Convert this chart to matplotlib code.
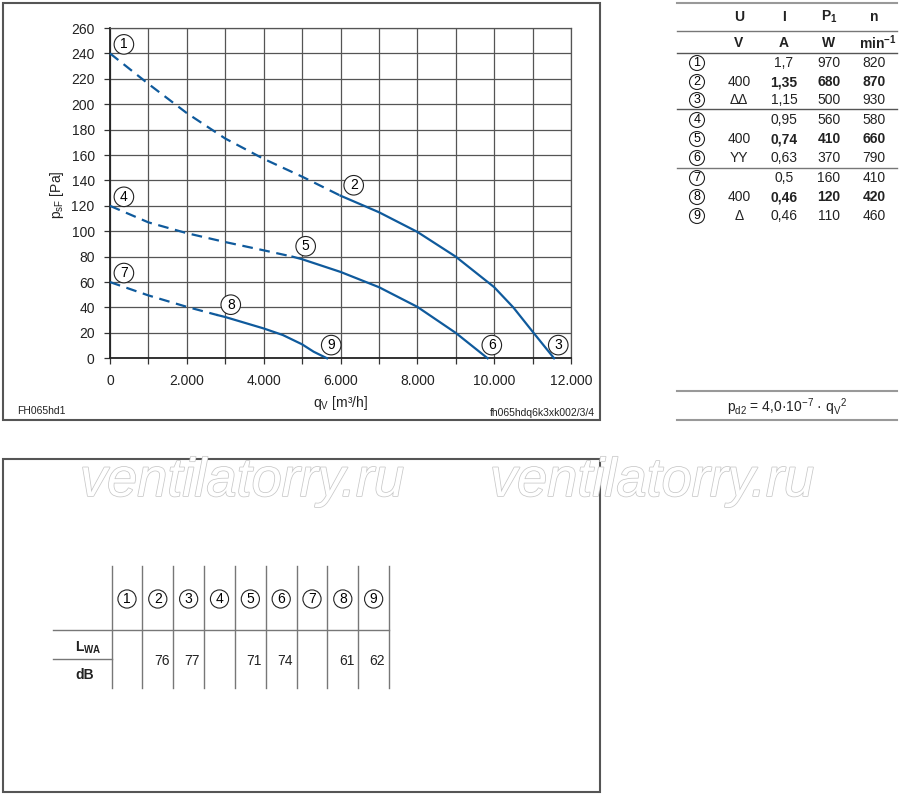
import matplotlib
matplotlib.use("Agg")
import matplotlib.pyplot as plt
import matplotlib.patheffects as pe
from matplotlib.ticker import MultipleLocator, FuncFormatter

plt.rcParams['font.family'] = ['Liberation Sans', 'DejaVu Sans']
plt.rcParams['mathtext.fontset'] = 'custom'
plt.rcParams['mathtext.rm'] = 'Liberation Sans'
plt.rcParams['mathtext.it'] = 'Liberation Sans:italic'
plt.rcParams['mathtext.bf'] = 'Liberation Sans:bold'

# --- curve data (q in m3/h, p in Pa) ---
q_hi = [0, 1000, 2000, 3000, 4000, 5000, 6000, 7000, 8000, 9000, 10000, 10500, 11000, 11560]
p_hi = [240, 216, 193, 173, 157, 143, 128, 115, 99.5, 80, 56, 40, 21, 0]
split_hi = 6  # index where the dashed part ends (point 2)

q_mid = [0, 1000, 2000, 3000, 4000, 4750, 5000, 6000, 7000, 8000, 9000, 9830]
p_mid = [120, 107, 98.5, 91.5, 85, 80, 78, 68, 56, 40.5, 20, 0]
split_mid = 5

q_lo = [0, 1000, 2000, 2800, 3000, 4000, 4500, 5000, 5300, 5650]
p_lo = [60, 49.5, 40.5, 34, 32.5, 23.5, 18.3, 11, 5.2, 0]
split_lo = 3

curves = [
    (q_hi, p_hi, split_hi, ['1', '2', '3']),
    (q_mid, p_mid, split_mid, ['4', '5', '6']),
    (q_lo, p_lo, split_lo, ['7', '8', '9']),
]

# --- operating data table ---
points = ['1', '2', '3', '4', '5', '6', '7', '8', '9']
voltage = ['', '400', 'ΔΔ', '', '400', 'YY', '', '400', 'Δ']
current = ['1,7', '1,35', '1,15', '0,95', '0,74', '0,63', '0,5', '0,46', '0,46']
power = ['970', '680', '500', '560', '410', '370', '160', '120', '110']
speed = ['820', '870', '930', '580', '660', '790', '410', '420', '460']
bold_rows = [1, 4, 7]

# --- sound power level table ---
lwa = ['', '76', '77', '', '71', '74', '', '61', '62']

BLUE = '#0f5a9c'
GRID = '#555555'

fig = plt.figure(figsize=(9.0, 7.97), dpi=100)

# overlay in pixel coordinates for frames, tables and labels
ov = fig.add_axes([0, 0, 1, 1])
ov.set_xlim(0, 900)
ov.set_ylim(797, 0)
ov.axis('off')
ov.set_zorder(0)


def circled(ax, x, y, label, fs=10, pad=0.15, **kw):
    ax.text(x, y, label, fontsize=fs, ha='center', va='center',
            bbox=dict(boxstyle=f'circle,pad={pad}', fc='white', ec='#222222', lw=0.8), **kw)


# frames
ov.add_patch(plt.Rectangle((3, 3), 597, 417, fill=False, ec='#555555', lw=1.5))
ov.add_patch(plt.Rectangle((3, 459), 597, 333, fill=False, ec='#555555', lw=1.5))

# chart
ax = fig.add_axes([110 / 900, (797 - 358.3) / 797, 461 / 900, 330.3 / 797])
ax.set_zorder(2)
ax.patch.set_alpha(0)
ax.set_xlim(0, 12000)
ax.set_ylim(0, 260)
ax.xaxis.set_major_locator(MultipleLocator(2000))
ax.xaxis.set_minor_locator(MultipleLocator(1000))
ax.yaxis.set_major_locator(MultipleLocator(20))
ax.xaxis.set_major_formatter(FuncFormatter(lambda v, _: f"{int(v):,}".replace(',', '.')))
ax.grid(True, which='both', color=GRID, lw=0.9)
ax.tick_params(which='both', direction='out', length=4, width=0.9, color='#333333',
               labelsize=10, pad=7, labelcolor='#222222')
for side in ['top', 'right']:
    ax.spines[side].set_color(GRID)
    ax.spines[side].set_linewidth(0.9)
for side in ['left', 'bottom']:
    ax.spines[side].set_color('#222222')
    ax.spines[side].set_linewidth(1.3)

for q, p, s, labels in curves:
    ax.plot(q[:s + 1], p[:s + 1], color=BLUE, lw=1.6, dashes=(4.8, 3.0),
            solid_capstyle='butt', zorder=3, clip_on=False)
    ax.plot(q[s:], p[s:], color=BLUE, lw=1.6, zorder=3, clip_on=False)
    marks = [(q[0], p[0], (10, 6.5)), (q[s], p[s], (9.5, 7.5)), (q[-1], p[-1], (3, 9.5))]
    for (mx, my, off), lab in zip(marks, labels):
        ax.annotate(lab, (mx, my), xytext=off, textcoords='offset points',
                    fontsize=10, ha='center', va='center', zorder=4,
                    bbox=dict(boxstyle='circle,pad=0.2', fc='white', ec='#222222', lw=0.8))

ov.text(57, 195, r'p$_{\mathregular{sF}}$ [Pa]', rotation=90, fontsize=10,
        ha='center', va='center', color='#222222')
ov.text(340, 403, r'q$_{\mathregular{V}}$ [m³/h]', fontsize=10, ha='center', va='center',
        color='#222222')
ov.text(17, 411, 'FH065hd1', fontsize=7.5, ha='left', va='center', color='#222222')
ov.text(595, 413, 'fh065hdq6k3xk002/3/4', fontsize=7.5, ha='right', va='center',
        color='#222222')

# right table
cx_circ, cx_u, cx_i, cx_p, cx_n = 697, 739, 784, 829, 874
tl, tr = 677, 897
for yl, c, w in [(3, '#999999', 1.5), (31, '#777777', 1.0), (53, '#555555', 1.0),
                 (109, '#555555', 1.0), (168, '#777777', 1.0),
                 (391, '#999999', 1.5), (420, '#999999', 1.5)]:
    ov.plot([tl, tr], [yl, yl], color=c, lw=w)

hdr = dict(fontsize=10, fontweight='bold', ha='center', va='center', color='#222222')
ov.text(cx_u, 17, 'U', **hdr)
ov.text(cx_i, 17, 'I', **hdr)
ov.text(cx_p, 17, r'P$_{\mathbf{1}}$', **hdr)
ov.text(cx_n, 17, 'n', **hdr)
ov.text(cx_u, 43, 'V', **hdr)
ov.text(cx_i, 43, 'A', **hdr)
ov.text(cx_p, 43, 'W', **hdr)
ov.text(cx_n + 4, 43, r'min$^{\mathbf{-1}}$', **hdr)

row_y = [63, 82, 100, 120, 139, 158, 178, 197, 216]
for k, y in enumerate(row_y):
    circled(ov, cx_circ, y, points[k], fs=9, pad=0.12)
    fw = 'bold' if k in bold_rows else 'normal'
    ov.text(cx_u, y, voltage[k], fontsize=10, ha='center', va='center', color='#222222')
    ov.text(cx_i, y, current[k], fontsize=10, ha='center', va='center', fontweight=fw,
            color='#222222')
    ov.text(cx_p, y, power[k], fontsize=10, ha='center', va='center', fontweight=fw,
            color='#222222')
    ov.text(cx_n, y, speed[k], fontsize=10, ha='center', va='center', fontweight=fw,
            color='#222222')

ov.text(787, 407, r'p$_{\mathregular{d2}}$ = 4,0·10$^{\mathregular{-7}}$ · q$_{\mathregular{V}}$$^{\mathregular{2}}$',
        fontsize=10, ha='center', va='center', color='#222222')

# watermark
for wx in [80, 490]:
    ov.text(wx, 496, 'ventilatorry.ru', fontsize=39, style='italic', ha='left',
            va='baseline', color='white', zorder=1,
            path_effects=[pe.Stroke(linewidth=1.1, foreground='#c8c8c8'), pe.Normal()])

# sound level table
vlines = [111.7, 142.3, 173.3, 204, 235, 265.7, 296.7, 327.3, 358.3, 389]
for vx in vlines:
    ov.plot([vx, vx], [566, 688], color='#777777', lw=1.0)
ov.plot([53, 389], [630, 630], color='#777777', lw=1.0)
ov.plot([53, 111.7], [659, 659], color='#777777', lw=1.0)
for k in range(9):
    xc = (vlines[k] + vlines[k + 1]) / 2
    circled(ov, xc, 599, points[k], fs=10, pad=0.15)
    ov.text(vlines[k + 1] - 4, 661, lwa[k], fontsize=10, ha='right', va='center',
            color='#222222')
ov.text(88, 648, r'L$_{\mathbf{WA}}$', fontsize=10, fontweight='bold', ha='center',
        va='center', color='#222222')
ov.text(85, 675, 'dB', fontsize=10, fontweight='bold', ha='center', va='center',
        color='#222222')

fig.savefig('out.png', dpi=100)
